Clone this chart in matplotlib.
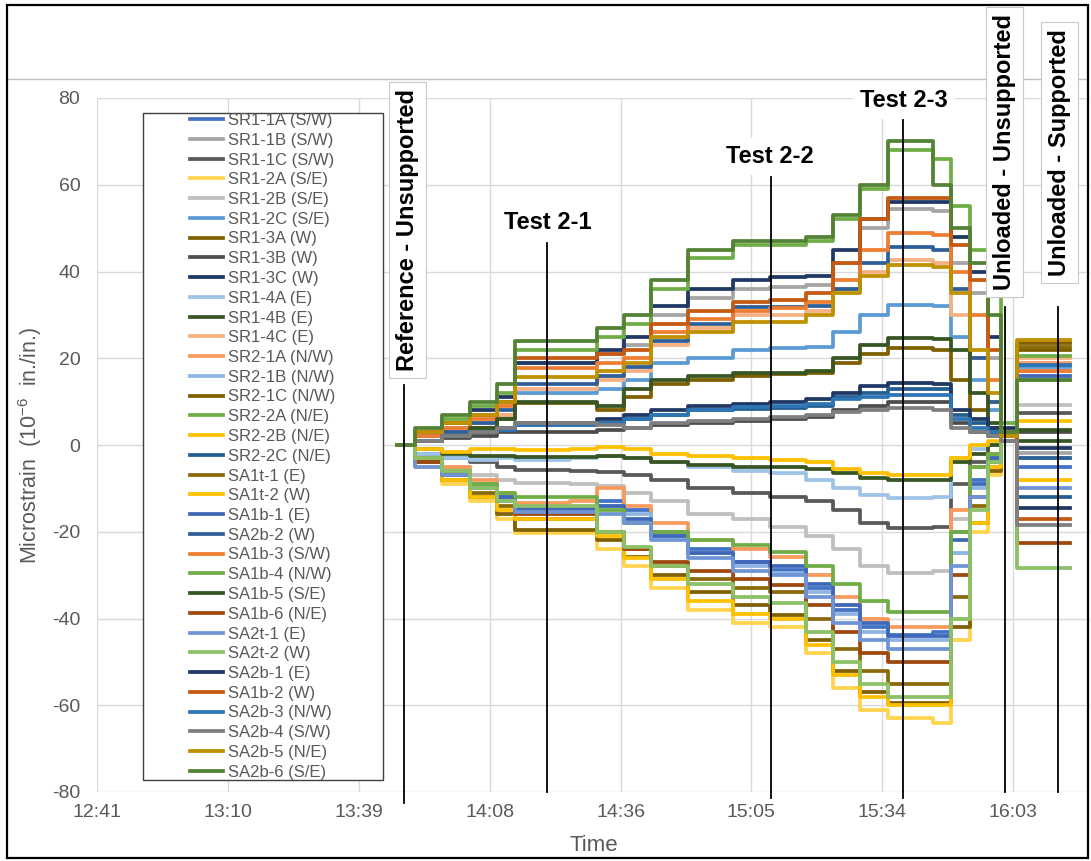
import numpy as np
import matplotlib
matplotlib.use("Agg")
import matplotlib.pyplot as plt
from matplotlib.lines import Line2D
from matplotlib.patches import Rectangle

plt.rcParams['font.family'] = ['Liberation Sans', 'DejaVu Sans']
plt.rcParams['mathtext.fontset'] = 'custom'
plt.rcParams['mathtext.rm'] = 'Liberation Sans'
plt.rcParams['mathtext.it'] = 'Liberation Sans:italic'
plt.rcParams['mathtext.bf'] = 'Liberation Sans:bold'
plt.rcParams['axes.unicode_minus'] = False

# ---------------- data ----------------
# time in minutes after 12:41
time_min = [66, 70, 76, 82, 88, 92, 104, 110, 116, 122, 130, 140, 148, 156,
            162, 168, 174, 184, 188, 192, 196, 199, 202.5, 214]

x_tick_labels = ['12:41', '13:10', '13:39', '14:08', '14:36', '15:05', '15:34', '16:03']
y_ticks = [-80, -60, -40, -20, 0, 20, 40, 60, 80]

sr1_1a = [0, -4, -6, -9, -12, -14.3, -14.5, -13, -15, -20, -24, -27, -28.8, -33, -38, -42, -43.8, -43, -20, -8, -3, 1, -5, -5]
sr1_1b = [0, 2, 4, 7, 10, 19, 19, 21, 23, 30, 34, 36, 36.4, 37, 42, 50, 54.5, 54, 42, 35, 20, 3, -1.8, -1.8]
sr1_1c = [0, -2, -3, -4, -5, -5.7, -6, -6.2, -7, -8, -10, -11, -12, -13, -15, -18, -19.1, -19, -9, -4, -2, 1, 7.4, 7.4]
sr1_2a = [0, -5, -9, -13, -17, -20.3, -20.3, -24, -28, -33, -38, -41, -42, -48, -56, -61, -63, -64, -45, -20, -7, 1, 24, 24]
sr1_2b = [0, -3, -5, -7, -8, -8.8, -9, -9.5, -11, -13, -16, -17, -18.9, -21, -24, -28, -29.5, -29, -17, -5, -2, 1, 9.2, 9.2]
sr1_2c = [0, 2, 3, 5, 7, 12, 12, 13, 15, 19, 20, 22, 22.4, 22.5, 26, 30, 32.3, 32, 25, 15, 8, 2, 18, 18]
sr1_3a = [0, 1, 2, 4, 6, 9.7, 9.7, 8, 11, 14, 15, 16, 16.4, 16.5, 19, 21, 22.4, 22, 15, 8, 4, 1, 22, 22]
sr1_3b = [0, 1, 1.5, 2, 3, 3, 3, 3.5, 4, 4.5, 5, 5.5, 6, 6.5, 8, 9, 10, 10, 5, 3, 2, 1, 3, 3]
sr1_3c = [0, 3, 5, 8, 11, 19, 19, 22, 25, 32, 36, 38, 38.7, 39, 45, 52, 56, 56, 48, 40, 25, 4, -14.5, -14.5]
sr1_4a = [0, -2, -3, -3.5, -3, -3.5, -3, -2.5, -3, -4, -5, -6, -6.5, -8, -10, -11.5, -12.2, -12, -3, -1, 0, 1, -3, -3]
sr1_4b = [0, -1, -2, -2.5, -2.5, -2.7, -2.7, -2.5, -3, -4, -4.5, -5, -5, -5.5, -6.5, -7.5, -8, -8, -4, -2, 0, 1, 3.5, 3.5]
sr1_4c = [0, 2, 3, 5, 7, 13, 13, 15, 17, 23, 27, 30, 30, 31, 36, 40, 42.7, 42, 30, 20, 10, 3, 20, 20]
sr2_1a = [0, -3, -5, -8, -11, -13.4, -13, -10, -14, -18, -22, -24, -25.8, -30, -35, -40, -42, -42, -15, -5, -2, 1, 19, 19]
sr2_1b = [0, -4, -6, -9, -12, -15, -15, -14, -16, -21, -25, -28, -29.5, -34, -39, -43, -45, -45, -25, -10, -3, 1, 17, 17]
sr2_1c = [0, -4, -8, -12, -16, -19.6, -19.6, -22, -25.8, -30, -34, -37, -39.2, -45, -52, -57, -59.5, -59.5, -42, -18, -6, 1, 23.5, 23.5]
sr2_2a = [0, 3, 6, 9, 12, 22, 22, 25, 28, 36, 43, 46, 46, 47, 52, 59, 68, 66, 55, 45, 35, 5, 20.5, 20.5]
sr2_2b = [0, -1, -1.5, -1, -1, -1.2, -1, -0.5, -1, -2, -2.5, -3, -3.5, -4, -5.5, -6.5, -7, -6.9, -3, 0, 1, 2, 5.5, 5.5]
sr2_2c = [0, 1, 2, 3, 3.5, 4.5, 4.5, 5, 6, 7, 8, 8.3, 8.5, 9, 11, 12, 13, 12.8, 7, 5, 3, 2, -12, -12]
sa1t_1 = [0, -3, -7, -11, -14, -17, -17, -20, -24, -28, -31, -33, -34, -40, -47, -52, -55, -55, -35, -14, -5, 1, 22.5, 22.5]
sa1t_2 = [0, -4, -8, -12, -15, -17, -17, -21, -26, -31, -36, -39, -40, -46, -53, -58, -60, -60, -40, -18, -5, 1, -8, -8]
sa1b_1 = [0, -4, -6, -10, -12, -14.8, -14.8, -14, -17, -21, -25, -27, -28, -32, -37, -41, -44, -44, -22, -9, -3, 1, 16, 16]
sa2b_2 = [0, 2, 3, 5, 8, 14, 14, 16, 18, 24, 28, 31.8, 31.8, 32, 36, 42, 45.6, 45, 36, 20, 10, 2, -3, -3]
sa1b_3 = [0, 2, 4, 6, 9, 17.7, 17.7, 19, 20, 26, 29, 31, 31.5, 33, 38, 45, 48.9, 48.5, 40, 30, 15, 3, 17, 17]
sa1b_4 = [0, -4, -6, -9, -11, -12, -12, -15, -18, -20, -22, -23, -24.6, -28, -32, -36, -38.5, -38.5, -20, -5, -2, 2, 15, 15]
sa1b_5 = [0, 1, 2, 4, 6, 10, 10, 9, 13, 15, 16, 16.6, 16.6, 17, 20, 23, 24.7, 24.5, 22, 12, 5, 2, 1, 1]
sa1b_6 = [0, -4, -7, -10, -13, -16, -16, -20, -24, -27, -29, -31, -32.3, -37, -43, -48, -50, -50, -30, -12, -4, 1, -22.6, -22.6]
sa2t_1 = [0, -5, -7, -10, -13, -15.4, -15.5, -16, -18, -22, -26, -29, -30, -35, -41, -45, -47, -47, -28, -12, -4, 1, -10, -10]
sa2t_2 = [0, -3, -6, -10, -13, -14, -14, -20, -23.5, -28, -32, -35, -36.4, -43, -50, -55, -58, -58, -40, -15, -4, 2, -28.4, -28.4]
sa2b_1 = [0, 1, 2, 3, 4, 5, 5, 6, 7, 8, 9, 9.5, 9.9, 10.5, 12, 13.5, 14.3, 14, 8, 6, 4, 2, -0.7, -0.7]
sa1b_2 = [0, 3, 5, 7, 10, 20, 20, 21, 22, 28, 31, 33, 33.4, 35, 42, 52, 57, 57, 46, 38, 22, 2, -17, -17]
sa2b_3 = [0, 1, 2, 3, 3.5, 4.5, 4.5, 5, 6, 7, 8, 8.8, 9, 9.5, 10.5, 11, 11.5, 11.5, 6, 4, 3, 2, 18.5, 18.5]
sa2b_4 = [0, 1, 2, 3, 4, 5, 5, 4.5, 4, 5, 5.5, 6, 6.5, 7, 7.5, 8, 8.5, 8, 4, 3, 2, 1, -18.4, -18.4]
sa2b_5 = [0, 3, 5, 7, 10, 15.7, 15.7, 17, 19, 25, 26, 28.4, 28.4, 30, 35, 39, 41.5, 41, 35, 22, 12, 2, 24.2, 24.2]
sa2b_6 = [0, 4, 7, 10, 14, 24, 24, 27, 30, 38, 45, 47, 47, 48, 53, 60, 70, 60, 50, 42, 30, 3, 15, 15]

series_names = ['SR1-1A (S/W)', 'SR1-1B (S/W)', 'SR1-1C (S/W)', 'SR1-2A (S/E)', 'SR1-2B (S/E)',
                'SR1-2C (S/E)', 'SR1-3A (W)', 'SR1-3B (W)', 'SR1-3C (W)', 'SR1-4A (E)', 'SR1-4B (E)',
                'SR1-4C (E)', 'SR2-1A (N/W)', 'SR2-1B (N/W)', 'SR2-1C (N/W)', 'SR2-2A (N/E)',
                'SR2-2B (N/E)', 'SR2-2C (N/E)', 'SA1t-1 (E)', 'SA1t-2 (W)', 'SA1b-1 (E)', 'SA2b-2 (W)',
                'SA1b-3 (S/W)', 'SA1b-4 (N/W)', 'SA1b-5 (S/E)', 'SA1b-6 (N/E)', 'SA2t-1 (E)',
                'SA2t-2 (W)', 'SA2b-1 (E)', 'SA1b-2 (W)', 'SA2b-3 (N/W)', 'SA2b-4 (S/W)',
                'SA2b-5 (N/E)', 'SA2b-6 (S/E)']
series_values = [sr1_1a, sr1_1b, sr1_1c, sr1_2a, sr1_2b, sr1_2c, sr1_3a, sr1_3b, sr1_3c, sr1_4a,
                 sr1_4b, sr1_4c, sr2_1a, sr2_1b, sr2_1c, sr2_2a, sr2_2b, sr2_2c, sa1t_1, sa1t_2,
                 sa1b_1, sa2b_2, sa1b_3, sa1b_4, sa1b_5, sa1b_6, sa2t_1, sa2t_2, sa2b_1, sa1b_2,
                 sa2b_3, sa2b_4, sa2b_5, sa2b_6]
series_colors = ['#4472C4', '#A5A5A5', '#595959', '#FFD34E', '#BFBFBF', '#5B9BD5', '#7F6000',
                 '#4D4D4D', '#1F3864', '#9DC3E6', '#375623', '#F4B183', '#F79A5B', '#8DB4E2',
                 '#806000', '#70AD47', '#FFC000', '#255E91', '#8B6A0B', '#FFC000', '#3F68B8',
                 '#2F5F98', '#ED7D31', '#70AD47', '#375623', '#9E480E', '#6F94D4', '#8CC168',
                 '#203864', '#C55A11', '#2E75B6', '#7F7F7F', '#BF9000', '#548235']

event_labels = ['Reference - Unsupported', 'Test 2-1', 'Test 2-2', 'Test 2-3',
                'Unloaded - Unsupported', 'Unloaded - Supported']
event_times = [67.5, 99.0, 148.3, 177.3, 199.8, 211.4]

# ---------------- layout ----------------
W, H = 1091, 861
fig = plt.figure(figsize=(W / 100, H / 100), dpi=100)
ax = fig.add_axes([97 / W, 69 / H, 993 / W, 694 / H])

for vals, col in zip(series_values, series_colors):
    ax.plot(time_min, vals, color=col, lw=2.7, drawstyle='steps-post', zorder=3)

ax.set_xlim(0, 218.5)
ax.set_ylim(-80, 80)
ax.set_xticks(np.arange(len(x_tick_labels)) * 28.8)
ax.set_xticklabels(x_tick_labels)
ax.set_yticks(y_ticks)
ax.grid(True, color='#D9D9D9', lw=1.0)
ax.set_axisbelow(True)
for s in ax.spines.values():
    s.set_visible(False)
ax.tick_params(axis='both', length=0, labelsize=14, labelcolor='#595959')
ax.tick_params(axis='x', pad=8.5)
ax.tick_params(axis='y', pad=12)

ax.set_ylabel('Microstrain  (10$^{-6}$  in./in.)', fontsize=15.5, color='#595959')
ax.yaxis.set_label_coords(-0.053, 0.5)
ax.set_xlabel('Time', fontsize=16, color='#595959')
ax.xaxis.set_label_coords(0.5, -0.062)

# event lines: (top value, bottom value)
line_spans = [(13.8, -82.5), (46.6, -80), (61.8, -81.4), (74.9, -81.4), (31.8, -80), (31.8, -80)]
for t, (y0, y1) in zip(event_times, line_spans):
    ax.plot([t, t], [y0, y1], color='black', lw=1.3, clip_on=False, zorder=6)

# event text (x in minutes, y in data, rotation)
text_pos = [(68.4, 49.6, 90), (99.2, 51.4, 0), (148.1, 66.6, 0), (177.5, 79.5, 0),
            (199.6, 67.5, 90), (211.7, 67.5, 90)]
for lab, (tx, ty, rot) in zip(event_labels, text_pos):
    edge = '#C8C8C8' if rot == 90 else 'none'
    ax.text(tx, ty, lab, rotation=rot, ha='center', va='center', fontsize=17,
            fontweight='bold', color='black', clip_on=False, zorder=7,
            bbox=dict(boxstyle='square,pad=0.3', facecolor='white', edgecolor=edge, lw=0.8))

# chart area top border and outer frame
fig.add_artist(Line2D([8 / W, 1086 / W], [1 - 79 / H, 1 - 79 / H], color='#BFBFBF', lw=1.0, zorder=-1))
fig.add_artist(Rectangle((7 / W, 3 / H), 1081 / W, 853 / H, transform=fig.transFigure,
                         fill=False, edgecolor='black', lw=1.6, zorder=10))

# legend box
fig.add_artist(Rectangle((143 / W, 1 - 780 / H), 240 / W, 667 / H, transform=fig.transFigure,
                         facecolor='white', edgecolor='#404040', lw=1.0, zorder=2))
handles = [Line2D([0], [0], color=c, lw=2.7) for c in series_colors]
fig.legend(handles, series_names, loc='upper left', bbox_to_anchor=(190 / W, 1 - 113 / H),
           frameon=False, fontsize=12, labelcolor='#595959', handlelength=2.0,
           handletextpad=0.25, labelspacing=0.285, borderpad=0, borderaxespad=0)

fig.savefig('out.png', dpi=100, facecolor='white')
